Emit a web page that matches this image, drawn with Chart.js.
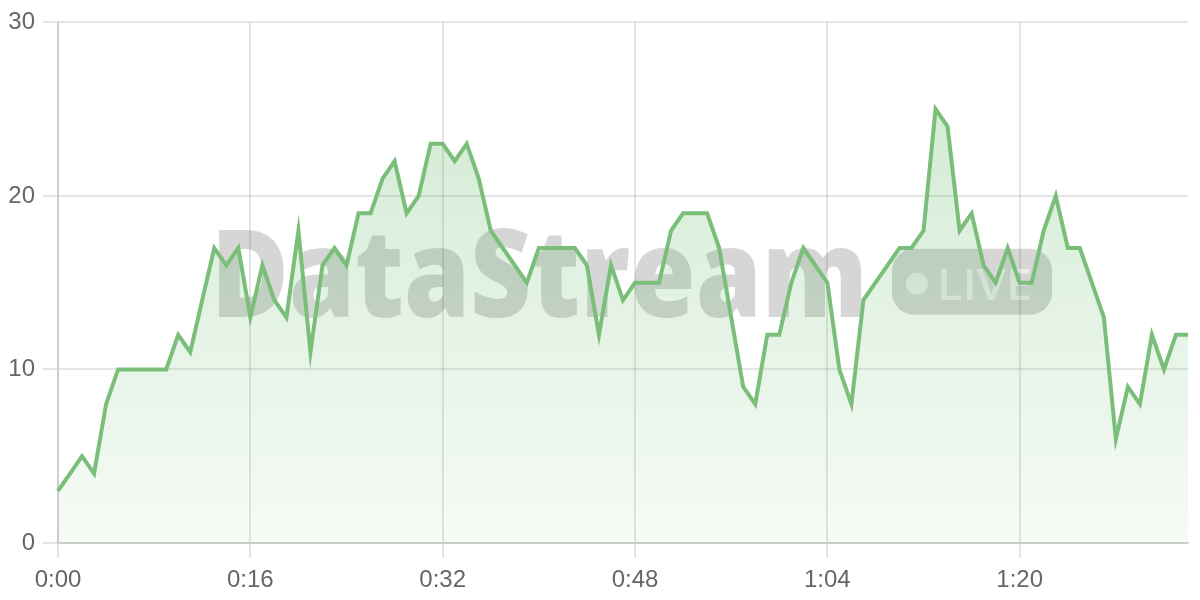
<!DOCTYPE html>
<html>
<head>
<meta charset="utf-8">
<script src="https://cdn.jsdelivr.net/npm/chart.js@4"></script>
<style>
  html, body { margin: 0; padding: 0; background: #fff; }
  #wrap { width: 1200px; height: 600px; position: relative; }
</style>
</head>
<body>
<div id="wrap"><canvas id="myChart"></canvas></div>
<script>
// one reading per minute, 0:00 .. 1:34
const viewers = [
    3, 4, 5, 4, 8, 10, 10, 10, 10, 10,
    12, 11, 14, 17, 16, 17, 13, 16, 14, 13,
    18, 11, 16, 17, 16, 19, 19, 21, 22, 19,
    20, 23, 23, 22, 23, 21, 18, 17, 16, 15,
    17, 17, 17, 17, 16, 12, 16, 14, 15, 15,
    15, 18, 19, 19, 19, 17, 13, 9, 8, 12,
    12, 15, 17, 16, 15, 10, 8, 14, 15, 16,
    17, 17, 18, 25, 24, 18, 19, 16, 15, 17,
    15, 15, 18, 20, 17, 17, 15, 13, 6, 9,
    8, 12, 10, 12, 12
];

const timeLabels = viewers.map((v, i) => {
    return Math.floor(i / 60) + ':' + String(i % 60).padStart(2, '0');
});

const yTicks = [0, 10, 20, 30];
const tickEvery = 16;

// watermark behind the chart
const watermark = {
    id: 'watermark',
    beforeDraw(chart) {
        const { ctx, chartArea } = chart;
        const cx = (chartArea.left + chartArea.right) / 2;
        const cy = (chartArea.top + chartArea.bottom) / 2;
        ctx.save();
        ctx.fillStyle = 'rgba(120, 120, 120, 0.3)';
        ctx.font = '800 122px "Open Sans"';
        ctx.textBaseline = 'alphabetic';
        ctx.textAlign = 'left';
        // squeeze the word into its box
        const w = ctx.measureText('DataStream').width;
        ctx.save();
        ctx.translate(cx - 412, cy + 34);
        ctx.scale(657 / w, 1);
        ctx.fillText('DataStream', 0, 0);
        ctx.restore();

        // LIVE pill
        const px = cx + 269, py = cy - 34, pw = 160, ph = 66, r = 22;
        ctx.beginPath();
        ctx.roundRect(px, py, pw, ph, r);
        ctx.fill();
        ctx.fillStyle = 'rgba(255, 255, 255, 0.55)';
        ctx.beginPath();
        ctx.arc(px + 25, py + 35, 11, 0, Math.PI * 2);
        ctx.fill();
        ctx.font = '600 44px "Open Sans"';
        const lw = ctx.measureText('LIVE').width;
        ctx.save();
        ctx.translate(px + 45, py + 51);
        ctx.scale(95 / lw, 1);
        ctx.fillText('LIVE', 0, 0);
        ctx.restore();
        ctx.restore();
    }
};

const config = {
    type: 'line',
    data: {
        labels: timeLabels,
        datasets: [
            {
                label: 'Viewers',
                data: viewers,
                borderColor: 'rgb(122, 190, 122)',
                borderWidth: 4,
                pointRadius: 0,
                tension: 0,
                fill: 'origin',
                backgroundColor: (context) => {
                    const area = context.chart.chartArea;
                    if (!area) {
                        return 'rgba(76, 175, 80, 0.1)';
                    }
                    const g = context.chart.ctx.createLinearGradient(0, area.top, 0, area.bottom);
                    g.addColorStop(0, 'rgba(76, 175, 80, 0.28)');
                    g.addColorStop(1, 'rgba(76, 175, 80, 0.05)');
                    return g;
                }
            }
        ]
    },
    options: {
        responsive: true,
        maintainAspectRatio: false,
        devicePixelRatio: 1,
        animation: false,
        layout: { padding: { top: 6, right: 12, bottom: 0 } },
        plugins: {
            legend: { display: false },
            tooltip: { enabled: false }
        },
        scales: {
            x: {
                grid: { tickLength: 15, lineWidth: 2 },
                border: { width: 2 },
                afterFit: (scale) => { scale.height = 57; },
                ticks: {
                    autoSkip: false,
                    maxRotation: 0,
                    padding: 8,
                    color: '#666',
                    font: { size: 24 },
                    callback: function (value, index) {
                        return index % tickEvery === 0 ? timeLabels[index] : null;
                    }
                }
            },
            y: {
                min: yTicks[0],
                max: yTicks[yTicks.length - 1],
                grid: { tickLength: 15, lineWidth: 2 },
                border: { width: 2 },
                afterFit: (scale) => { scale.width = 58; },
                ticks: {
                    stepSize: 10,
                    padding: 8,
                    color: '#666',
                    font: { size: 24 }
                }
            }
        }
    },
    plugins: [watermark]
};

new Chart(document.getElementById('myChart'), config);
</script>
</body>
</html>
